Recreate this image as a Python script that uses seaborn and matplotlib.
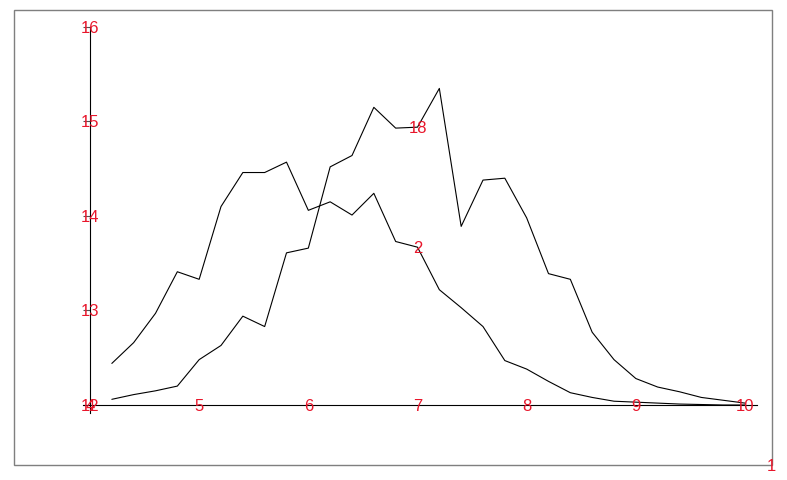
import numpy as np
import pandas as pd
import matplotlib
matplotlib.use('Agg')
import matplotlib.pyplot as plt
import seaborn as sns
from matplotlib.patches import Rectangle

# valores
x_vals = [4.2, 4.4, 4.6, 4.8, 5.0, 5.2, 5.4, 5.6, 5.8, 6.0,
          6.2, 6.4, 6.6, 6.8, 7.0, 7.2, 7.4, 7.6, 7.8, 8.0,
          8.2, 8.4, 8.6, 8.8, 9.0, 9.2, 9.4, 9.6, 9.8, 10.0]
serie_2 = [12.44, 12.66, 12.97, 13.41, 13.33, 14.10, 14.46, 14.46, 14.57, 14.06,
           14.15, 14.01, 14.24, 13.73, 13.67, 13.22, 13.03, 12.83, 12.47, 12.38,
           12.25, 12.13, 12.08, 12.04, 12.03, 12.02, 12.01, 12.005, 12.0, 12.0]
serie_18 = [12.06, 12.11, 12.15, 12.20, 12.48, 12.63, 12.94, 12.83, 13.61, 13.66,
            14.52, 14.64, 15.15, 14.93, 14.94, 15.35, 13.89, 14.38, 14.40, 13.98,
            13.39, 13.33, 12.77, 12.48, 12.28, 12.19, 12.14, 12.08, 12.05, 12.02]
nomes = ['2', '18']
x_ticks = [4, 5, 6, 7, 8, 9, 10]
y_ticks = [12, 13, 14, 15, 16]

df = pd.DataFrame({'x': x_vals, '2': serie_2, '18': serie_18})

sns.set_style('white')
plt.rcParams['font.family'] = ['Liberation Sans', 'DejaVu Sans']

vermelho = '#e8162b'
tam = 12
fig = plt.figure(figsize=(7.87, 4.8), dpi=100)

# moldura externa
fig.patches.append(Rectangle((14 / 787, 15 / 480), 758 / 787, 455 / 480,
                             transform=fig.transFigure, fill=False,
                             edgecolor='#7f7f7f', linewidth=1.0))

ax = fig.add_axes([83 / 787, 67 / 480, 674 / 787, 386 / 480])
ax.patch.set_alpha(0)

for nome in nomes:
    sns.lineplot(data=df, x='x', y=nome, ax=ax, color='black', linewidth=0.8)

ax.set_xlim(4 - 7 / 109.2, 10 + 12 / 109.2)
ax.set_ylim(12 - 8 / 94.4, 16)

for lado in ['top', 'right']:
    ax.spines[lado].set_visible(False)
ax.spines['left'].set_position(('data', 4))
ax.spines['bottom'].set_position(('data', 12))
for lado in ['left', 'bottom']:
    ax.spines[lado].set_color('black')
    ax.spines[lado].set_linewidth(0.8)

ax.set_xticks(x_ticks)
ax.set_yticks(y_ticks)
ax.set_xticklabels([])
ax.set_yticklabels([])
ax.tick_params(axis='y', direction='out', length=5, width=0.8, color='#555555', left=True)
ax.tick_params(axis='x', length=0)
ax.set_xlabel('')
ax.set_ylabel('')

# rotulos dos ticks em cima do eixo
for t in x_ticks:
    ax.text(t, 12, str(t), color=vermelho, fontsize=tam, ha='center', va='center_baseline')
for t in y_ticks:
    ax.text(4, t, str(t), color=vermelho, fontsize=tam, ha='center', va='center_baseline')

# rotulos das series em x = 7
i7 = x_vals.index(7.0)
ax.text(7, serie_18[i7], nomes[1], color=vermelho, fontsize=tam, ha='center', va='center_baseline')
ax.text(7, serie_2[i7], nomes[0], color=vermelho, fontsize=tam, ha='center', va='center_baseline')

fig.text(771 / 787, 15 / 480, '1', color=vermelho, fontsize=tam, ha='center', va='center_baseline')

fig.savefig('out.png', dpi=100)
